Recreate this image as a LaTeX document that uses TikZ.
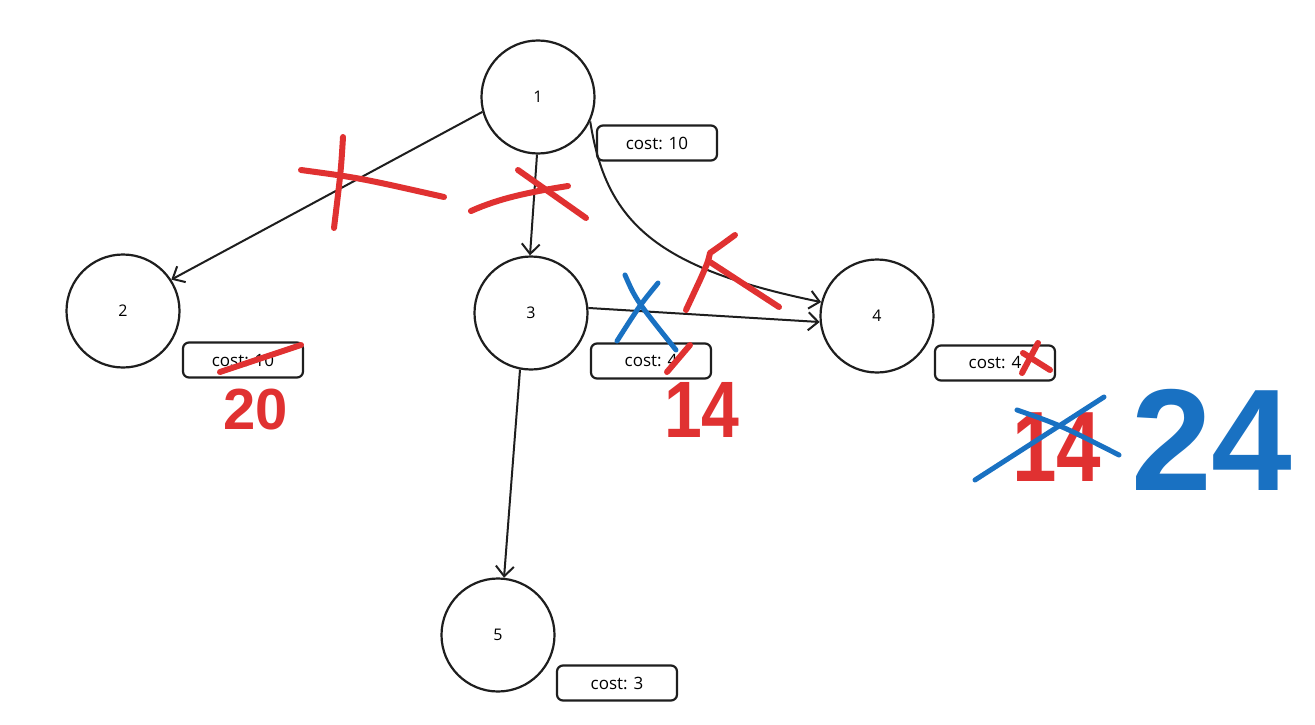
\documentclass[tikz,border=0pt]{standalone}
\usepackage{fontspec}
\setmainfont{Open Sans}
\newfontfamily\handfont{Liberation Sans}
\usetikzlibrary{arrows.meta}
\definecolor{inkred}{HTML}{E03131}
\definecolor{inkblue}{HTML}{1971C2}
\definecolor{ink}{HTML}{1E1E1E}
\begin{document}
\begin{tikzpicture}[x=1pt,y=-1pt,
  vertex/.style={circle,draw=ink,line width=2.2pt,minimum size=113pt,inner sep=0pt,font=\fontsize{16}{16}\selectfont},
  costbox/.style={draw=ink,line width=2.2pt,rounded corners=6pt,minimum width=120pt,minimum height=35pt,inner sep=0pt,font=\fontsize{17}{17}\selectfont},
  edge/.style={draw=ink,line width=2pt,-{Straight Barb[length=10pt,width=18pt,line width=2pt]}},
  redmark/.style={draw=inkred,line width=6pt,line cap=round,line join=round},
  bluemark/.style={draw=inkblue,line width=5pt,line cap=round,line join=round},
  hand/.style={inner sep=0pt,font=\handfont\bfseries}]
\useasboundingbox (0,0) rectangle (1315,725);
\fill[white] (0,0) rectangle (1315,725);

% vertices
\node[vertex] (n1) at (538,97) {1};
\node[vertex] (n2) at (123,311) {2};
\node[vertex] (n3) at (531,313) {3};
\node[vertex] (n4) at (877,316) {4};
\node[vertex] (n5) at (498,635) {5};

% cost boxes
\node[costbox] (c1) at (657,143) {cost: 10};
\node[costbox] (c2) at (243,360) {cost: 10};
\node[costbox] (c3) at (651,361) {cost: 4};
\node[costbox] (c4) at (995,363) {cost: 4};
\node[costbox] (c5) at (617,683) {cost: 3};

% edges
\draw[edge] (n1.195) -- (n2.33);
\draw[edge] (n1.-91) -- (n3.91);
\draw[edge] (n1.-25) .. controls (606,222) and (655,268) .. (n4.166);
\draw[edge] (n3.5) -- (n4.186);
\draw[edge] (n3.-101) -- (n5.84);

% red crosses on edges
\draw[redmark] (343,137) .. controls (341,170) .. (334,228);
\draw[redmark] (301,170) .. controls (360,178) .. (444,197);
\draw[redmark] (471,211) .. controls (500,198) and (530,192) .. (568,186);
\draw[redmark] (518,170) -- (586,218);
\draw[redmark] (735,235) .. controls (720,246) .. (710,253) .. controls (708,262) .. (700,280) -- (686,310);
\draw[redmark] (710,262) -- (779,307);

% blue cross near node 3
\draw[bluemark] (625,275) .. controls (636,300) .. (676,350);
\draw[bluemark] (658,283) .. controls (640,305) .. (617,341);

% red strikes on costs
\draw[redmark] (220,372) -- (301,345);
\draw[redmark] (690,345) -- (667,372);
\draw[redmark] (1038,343) -- (1022,373);
\draw[redmark] (1023,353) -- (1050,370);

% new cost numbers
\node[hand,text=inkred,font=\handfont\bfseries\fontsize{58}{58}\selectfont] (t20) at (256,410) {20};
\node[hand,text=inkred,xscale=0.85,font=\handfont\bfseries\fontsize{80}{80}\selectfont] (t14a) at (702,410) {14};
\node[hand,text=inkred,xscale=0.8,font=\handfont\bfseries\fontsize{100}{100}\selectfont] (t14b) at (1057,447) {14};
\draw[bluemark] (975,480) -- (1104,397);
\draw[bluemark] (1017,410) .. controls (1060,425) .. (1119,455);
\node[hand,text=inkblue,anchor=base,font=\handfont\bfseries\fontsize{145}{145}\selectfont] (t24) at (1212,490) {24};
\end{tikzpicture}
\end{document}
